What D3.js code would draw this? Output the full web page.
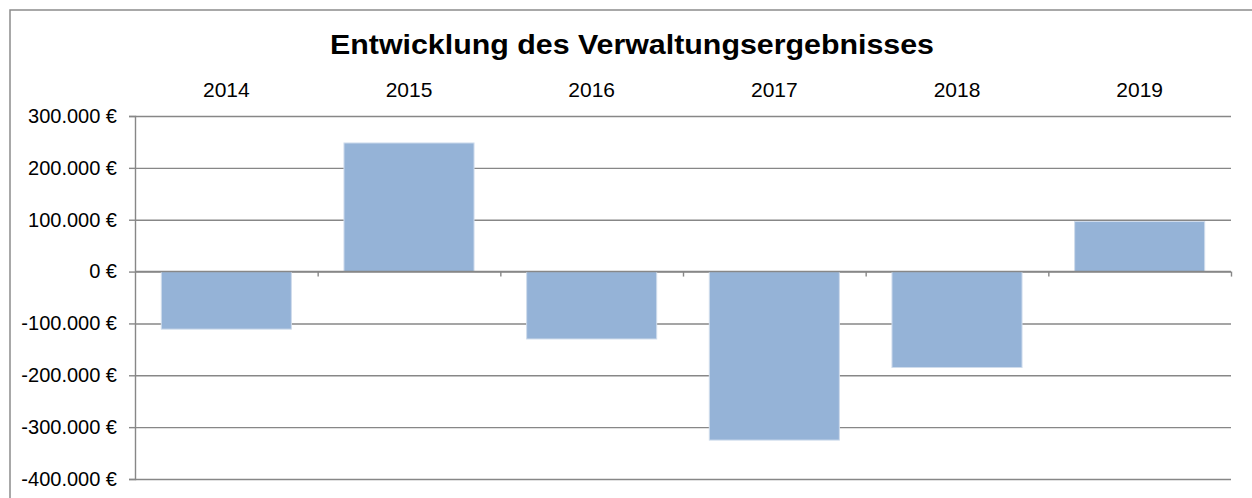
<!DOCTYPE html>
<html>
<head>
<meta charset="utf-8">
<script src="https://cdn.jsdelivr.net/npm/d3@7"></script>
<style>
  body { margin: 0; background: #fff; }
  text { font-family: "Liberation Sans", Arial, sans-serif; fill: #000; }
</style>
</head>
<body>
<div id="chart"></div>
<script>
// data
var years = ["2014", "2015", "2016", "2017", "2018", "2019"];
var results = [-111000, 248000, -130000, -325000, -185000, 96500];
var yTicks = [-400000, -300000, -200000, -100000, 0, 100000, 200000, 300000];
var title = "Entwicklung des Verwaltungsergebnisses";

var W = 1252, H = 498;
var margin = {top: 116, right: 21, bottom: 19, left: 135},
    width = W - margin.left - margin.right,
    height = H - margin.top - margin.bottom;

var de = d3.formatLocale({decimal: ",", thousands: ".", grouping: [3], currency: ["", " €"], minus: "-"});
var fmt = de.format(",.0f");

var svg = d3.select("#chart")
  .append("svg")
    .attr("width", W)
    .attr("height", H);

// chart frame (cut off on the right and at the bottom)
svg.append("path")
  .attr("d", "M10," + H + "V10H" + W)
  .attr("fill", "none")
  .attr("stroke", "#8c8c8c")
  .attr("stroke-width", 1.5);

// title, Excel renders it a bit wider than Liberation
svg.append("text")
  .attr("x", 632)
  .attr("y", 53.5)
  .attr("text-anchor", "middle")
  .attr("textLength", 604)
  .attr("lengthAdjust", "spacingAndGlyphs")
  .style("font-size", "28.5px")
  .style("font-weight", "bold")
  .text(title);

var g = svg.append("g")
  .attr("transform", "translate(" + margin.left + "," + margin.top + ")");

var x = d3.scaleBand()
  .domain(years)
  .range([0, width])
  .paddingInner(0.288)
  .paddingOuter(0.144);

var y = d3.scaleLinear()
  .domain([-400000, 300000])
  .range([height, 0]);

// grid lines
g.append("g")
  .attr("class", "grid")
  .call(d3.axisLeft(y).tickValues(yTicks).tickSize(-width).tickFormat(""))
  .call(function(s) { s.select(".domain").remove(); })
  .selectAll(".tick line")
    .attr("stroke", "#878787")
    .attr("stroke-width", 1.4);

// bars
g.selectAll("rect.bar")
  .data(years)
  .enter()
  .append("rect")
    .attr("class", "bar")
    .attr("x", function(d) { return x(d); })
    .attr("width", x.bandwidth())
    .attr("y", function(d, i) { return y(Math.max(0, results[i])); })
    .attr("height", function(d, i) { return Math.abs(y(results[i]) - y(0)); })
    .attr("fill", "#95b3d7")
    .attr("stroke", "#cfdcec")
    .attr("stroke-width", 1);

// zero line on top of the bars
g.append("line")
  .attr("x1", 0)
  .attr("x2", width)
  .attr("y1", y(0))
  .attr("y2", y(0))
  .attr("stroke", "#878787")
  .attr("stroke-width", 1.4);

// category ticks on the zero line
var xi = d3.scaleLinear().domain([0, years.length]).range([0, width]);
var xt = g.append("g")
  .attr("transform", "translate(0," + y(0) + ")")
  .call(d3.axisBottom(xi).tickValues(d3.range(1, years.length + 1)).tickSize(5).tickFormat(""));
xt.select(".domain").remove();
xt.selectAll(".tick line").attr("stroke", "#878787").attr("stroke-width", 1.4);

// y axis
var ya = g.append("g")
  .call(d3.axisLeft(y).tickValues(yTicks).tickSize(6).tickPadding(12)
    .tickFormat(function(d) { return fmt(d) + " €"; }));
ya.select(".domain").attr("stroke", "#878787").attr("stroke-width", 1.4);
ya.selectAll(".tick line").attr("stroke", "#878787").attr("stroke-width", 1.4);
ya.selectAll(".tick text")
  .style("font-size", "20px")
  .style("font-family", "'Liberation Sans', Arial, sans-serif")
  .attr("fill", "#000");

// category labels above the plot
g.selectAll("text.cat")
  .data(years)
  .enter()
  .append("text")
    .attr("class", "cat")
    .attr("x", function(d) { return x(d) + x.bandwidth() / 2; })
    .attr("y", -19)
    .attr("text-anchor", "middle")
    .style("font-size", "21px")
    .text(function(d) { return d; });
</script>
</body>
</html>
